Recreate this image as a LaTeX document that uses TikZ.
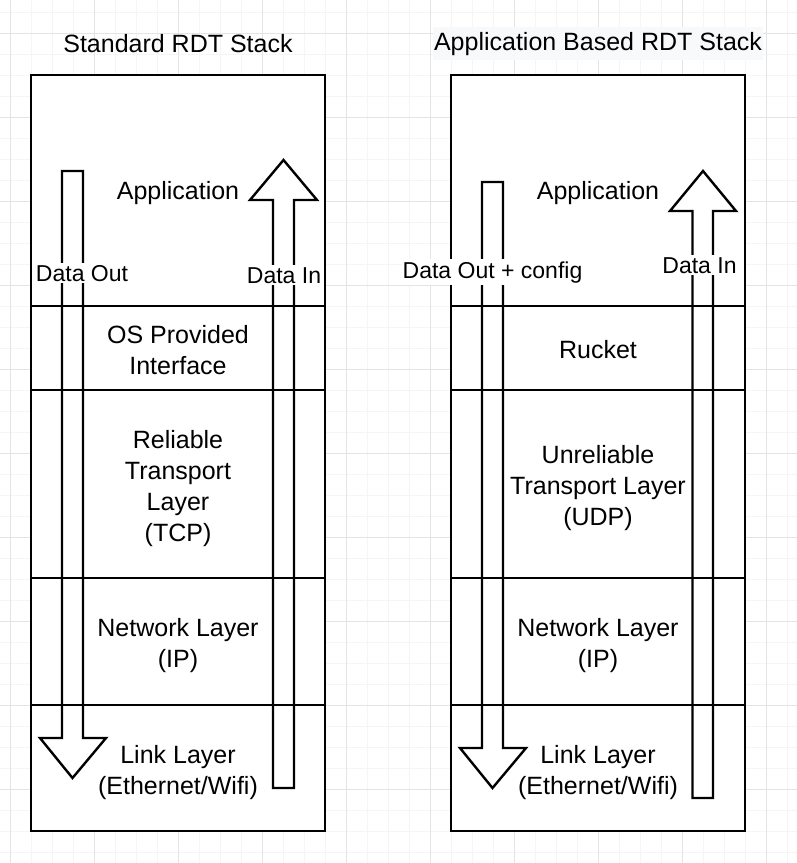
\documentclass[tikz,border=0pt]{standalone}
\usepackage{fontspec}
\setmainfont{Liberation Sans}
\begin{document}
\begin{tikzpicture}[x=1pt,y=-1pt]
\tikzset{
  minorgrid/.style={draw={rgb,255:red,245;green,245;blue,245}, line width=1pt},
  majorgrid/.style={draw={rgb,255:red,228;green,228;blue,228}, line width=1pt},
  layer/.style={draw=black, fill=white, line width=2.4pt, minimum width=294pt, inner sep=0pt},
  layertext/.style={inner sep=0pt, align=center, font=\fontsize{25}{31}\selectfont},
  blockarrow/.style={draw=black, line width=2.4pt, line join=miter},
  lbl/.style={fill=white, inner xsep=1pt, inner ysep=2pt, font=\fontsize{23}{28}\selectfont, anchor=base},
  stacktitle/.style={font=\fontsize{25}{30}\selectfont, anchor=base, inner xsep=1pt, inner ysep=5pt},
}
\useasboundingbox (0,0) rectangle (797,863);
\fill[white] (0,0) rectangle (797,863);
% grid
\foreach \k in {0,...,37} {\draw[minorgrid] ({10.3+21*\k},0) -- ({10.3+21*\k},863);}
\foreach \k in {-1,...,39} {\draw[minorgrid] (0,{33+21*\k}) -- (797,{33+21*\k});}
\foreach \k in {0,...,9} {\draw[majorgrid] ({10.3+84*\k},0) -- ({10.3+84*\k},863);}
\foreach \k in {0,...,9} {\draw[majorgrid] (0,{33+84*\k}) -- (797,{33+84*\k});}

% titles
\node[stacktitle] (t1) at (178,52) {Standard RDT Stack};
\node[stacktitle, fill={rgb,255:red,248;green,249;blue,250}] (t2) at (598,50) {Application Based RDT Stack};

% left stack
\node[layer, minimum height=231pt] (lapp) at (178,190.5) {};
\node[layer, minimum height=84pt] (los) at (178,348) {};
\node[layer, minimum height=188pt] (ltr) at (178,484) {};
\node[layer, minimum height=127pt] (lnet) at (178,641.5) {};
\node[layer, minimum height=126pt] (llink) at (178,768) {};

% right stack
\node[layer, minimum height=231pt] (rapp) at (598,190.5) {};
\node[layer, minimum height=84pt] (rru) at (598,348) {};
\node[layer, minimum height=188pt] (rtr) at (598,484) {};
\node[layer, minimum height=127pt] (rnet) at (598,641.5) {};
\node[layer, minimum height=126pt] (rlink) at (598,768) {};

% layer texts
\node[layertext] (tlapp) at ([yshift=-3pt]lapp.center) {Application};
\node[layertext] (tlos) at ([yshift=-2pt]los.center) {OS Provided\\Interface};
\node[layertext] (tltr) at ([yshift=-5pt]ltr.center) {Reliable\\Transport\\Layer\\(TCP)};
\node[layertext] (tlnet) at ([yshift=-4.5pt]lnet.center) {Network Layer\\(IP)};
\node[layertext] (tllink) at ([yshift=-4.5pt]llink.center) {Link Layer\\(Ethernet/Wifi)};
\node[layertext] (trapp) at ([yshift=-3pt]rapp.center) {Application};
\node[layertext] (trru) at ([yshift=-2pt]rru.center) {Rucket};
\node[layertext] (trtr) at ([yshift=-4.5pt]rtr.center) {Unreliable\\Transport Layer\\(UDP)};
\node[layertext] (trnet) at ([yshift=-4.5pt]rnet.center) {Network Layer\\(IP)};
\node[layertext] (trlink) at ([yshift=-4.5pt]rlink.center) {Link Layer\\(Ethernet/Wifi)};

% block arrows
\draw[blockarrow] (62,171) -- (83,171) -- (83,738) -- (106,738) -- (72.5,778) -- (40,738) -- (62,738) -- cycle;
\draw[blockarrow] (273,788) -- (294,788) -- (294,200) -- (317,200) -- (283.5,160) -- (250,200) -- (273,200) -- cycle;
\draw[blockarrow] (482,182) -- (503,182) -- (503,748) -- (526,748) -- (492.5,788) -- (460,748) -- (482,748) -- cycle;
\draw[blockarrow] (692.5,798) -- (713,798) -- (713,211) -- (736,211) -- (703,171) -- (670,211) -- (692.5,211) -- cycle;

% arrow labels
\node[lbl] (l1) at (82,281) {Data Out};
\node[lbl] (l2) at (284,283) {Data In};
\node[lbl] (l3) at (492.5,278) {Data Out + config};
\node[lbl] (l4) at (699.5,273) {Data In};
\end{tikzpicture}
\end{document}
